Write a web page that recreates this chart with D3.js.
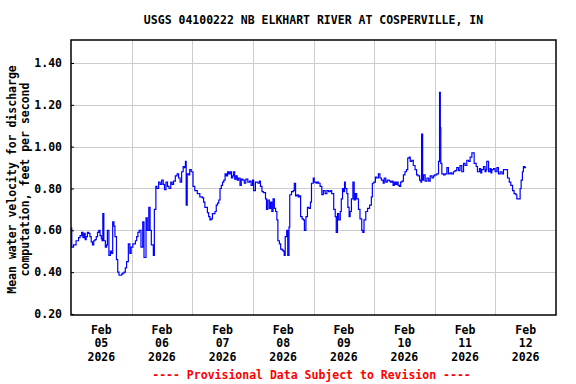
<!DOCTYPE html>
<html>
<head>
<meta charset="utf-8">
<script src="https://cdn.jsdelivr.net/npm/d3@7"></script>
<style>
  body { margin: 0; background: #fff; }
  svg text { font-family: "DejaVu Sans Mono", monospace; font-weight: bold; font-size: 11.5px; }
</style>
</head>
<body>
<div id="chart"></div>
<script>
// gage readings: [hours since Feb 05 2026 00:00, mean velocity ft/s]
var feb05 = [[0,0.61],[0.3,0.52],[1,0.53],[2,0.55],[3,0.565],[3.6,0.575],[4.2,0.59],[4.7,0.565],[5.2,0.585],[5.6,0.555],[6,0.57],[6.5,0.59],[7,0.585],[7.5,0.57],[8,0.545],[8.5,0.53],[9,0.55],[9.5,0.555],[10,0.57],[10.5,0.59],[11,0.60],[11.5,0.575],[12,0.56],[12.3,0.55],[12.6,0.68],[13,0.55],[13.6,0.52],[14.1,0.53],[14.4,0.60],[15,0.48],[15.6,0.50],[16,0.49],[16.5,0.64],[17,0.62],[17.4,0.57],[18,0.46],[18.5,0.40],[19,0.385],[20,0.39],[20.5,0.395],[21,0.40],[21.5,0.42],[22,0.45],[22.7,0.535],[23.3,0.49],[23.8,0.52]];
var feb06 = [[24.5,0.535],[25,0.535],[25.5,0.55],[26,0.57],[26.5,0.59],[27,0.60],[27.7,0.52],[28.4,0.64],[28.9,0.47],[29.7,0.66],[30.2,0.60],[30.8,0.71],[31.3,0.60],[31.8,0.53],[32.6,0.48],[33,0.70],[33.6,0.81],[34,0.80],[34.7,0.83],[35.3,0.82],[35.9,0.84],[36.5,0.82],[37,0.795],[37.6,0.83],[38.2,0.81],[38.8,0.80],[39.5,0.83],[40,0.82],[40.6,0.835],[41.3,0.86],[42,0.87],[42.6,0.85],[43.2,0.83],[43.8,0.88],[44.4,0.905],[44.9,0.90],[45.3,0.93],[45.6,0.72],[46,0.87],[46.6,0.865],[47,0.89],[47.6,0.88]];
var feb07 = [[48,0.88],[48.3,0.81],[49,0.79],[50,0.775],[51,0.76],[51.5,0.76],[52,0.755],[52.5,0.735],[53,0.71],[54,0.685],[54.5,0.665],[55,0.65],[55.5,0.655],[56,0.68],[57,0.69],[57.5,0.72],[58,0.73],[58.5,0.745],[59,0.80],[59.5,0.815],[60,0.83],[60.5,0.84],[61,0.87],[61.5,0.86],[62,0.88],[62.5,0.87],[63,0.88],[63.5,0.85],[64,0.86],[64.3,0.88],[64.8,0.845],[65.3,0.86],[65.8,0.84],[66.3,0.85],[66.9,0.815],[67.4,0.845],[68,0.84],[68.6,0.825],[69.2,0.845],[70,0.83],[70.7,0.835],[71.3,0.815],[71.9,0.84]];
var feb08 = [[72.3,0.79],[73,0.83],[74,0.825],[74.6,0.835],[75,0.81],[75.6,0.785],[76.2,0.78],[77,0.75],[77.4,0.70],[77.9,0.745],[78.5,0.705],[79,0.735],[79.5,0.69],[80,0.75],[80.5,0.705],[81,0.69],[81.5,0.65],[81.9,0.55],[82.5,0.535],[83,0.51],[83.6,0.505],[84,0.50],[84.4,0.48],[84.8,0.57],[85.4,0.60],[85.8,0.48],[86.3,0.615],[86.6,0.77],[87.3,0.785],[88,0.79],[88.4,0.825],[88.9,0.765],[89.5,0.77],[90,0.76],[90.5,0.765],[90.9,0.665],[91.5,0.655],[92,0.65],[92.4,0.60],[93,0.665],[93.6,0.71],[94.2,0.705],[94.8,0.735],[95.2,0.825]];
var feb09 = [[95.9,0.85],[96.3,0.83],[97,0.825],[97.5,0.83],[98,0.825],[98.6,0.81],[99.3,0.77],[99.9,0.79],[100.6,0.775],[101.3,0.79],[102,0.785],[102.7,0.79],[103.2,0.775],[104,0.70],[104.6,0.665],[105,0.59],[105.5,0.68],[106,0.65],[106.6,0.69],[107,0.75],[107.5,0.80],[107.9,0.785],[108.3,0.83],[108.6,0.80],[109.2,0.775],[109.6,0.71],[110.1,0.665],[110.5,0.69],[111,0.75],[111.6,0.83],[112.1,0.745],[112.6,0.775],[113.1,0.75],[113.8,0.70],[114.4,0.655],[115.1,0.60],[115.5,0.59],[116,0.65],[116.7,0.69],[117.4,0.705],[118.2,0.72],[118.9,0.76],[119.3,0.825],[119.9,0.83]];
var feb10 = [[120.5,0.855],[121,0.85],[121.7,0.87],[122.3,0.85],[122.9,0.84],[123.6,0.825],[124,0.85],[124.6,0.83],[125.2,0.84],[126,0.835],[126.5,0.83],[127,0.835],[127.5,0.815],[128,0.83],[128.5,0.82],[129,0.83],[129.5,0.815],[130,0.81],[130.5,0.83],[131,0.835],[131.6,0.865],[132.2,0.88],[132.8,0.89],[133.3,0.945],[133.9,0.95],[134.3,0.93],[134.9,0.935],[135.5,0.91],[136.2,0.89],[136.8,0.865],[137.4,0.86],[138,0.84],[138.5,0.83],[138.8,1.06],[139.2,0.84],[139.6,0.865],[140.2,0.835],[140.9,0.85],[141.6,0.835],[142.2,0.86],[142.9,0.85],[143.5,0.86]];
var feb11 = [[144,0.865],[144.8,0.87],[145.5,0.93],[145.9,1.26],[146.2,1.09],[146.4,0.92],[146.8,0.87],[147.5,0.865],[148.1,0.87],[148.8,0.90],[149.4,0.87],[150.1,0.875],[150.7,0.87],[151.4,0.88],[152,0.885],[152.7,0.90],[153.4,0.885],[154,0.91],[154.7,0.88],[155.4,0.92],[156,0.91],[156.7,0.935],[157.4,0.93],[158,0.95],[158.7,0.97],[159.3,0.97],[159.6,0.92],[160.4,0.905],[160.9,0.88],[161.7,0.895],[162.2,0.875],[162.6,0.89],[163.3,0.905],[163.9,0.88],[164.3,0.89],[164.6,0.93],[165.3,0.88],[165.9,0.895],[166.3,0.875],[166.6,0.89],[167.3,0.895],[167.9,0.88]];
var feb12 = [[168.6,0.90],[169.2,0.87],[169.9,0.88],[170.6,0.87],[171.2,0.89],[172.3,0.89],[172.8,0.85],[173.5,0.83],[174.1,0.815],[174.8,0.79],[175.4,0.775],[176.1,0.77],[176.5,0.75],[177.5,0.75],[177.8,0.80],[178.2,0.84],[178.7,0.88],[179.1,0.905],[179.5,0.90],[179.9,0.905]];

var yTicks = [0.20, 0.40, 0.60, 0.80, 1.00, 1.20, 1.40];
var dayTicks = ['2026-02-05', '2026-02-06', '2026-02-07', '2026-02-08', '2026-02-09', '2026-02-10', '2026-02-11', '2026-02-12'];

var width = 576, height = 384;
var plotLeft = 71, plotRight = 556, plotTop = 40, plotBottom = 315;

var parseDay = d3.timeParse('%Y-%m-%d');
var start = parseDay('2026-02-05');
var readings = [].concat(feb05, feb06, feb07, feb08, feb09, feb10, feb11, feb12);
var data = readings.map(function(r) { return {t: new Date(start.getTime() + r[0] * 3600000), v: r[1]}; });

var x = d3.scaleTime().domain([start, parseDay('2026-02-13')]).range([plotLeft, plotRight]);
var y = d3.scaleLinear().domain([0.195, 1.51]).range([plotBottom, plotTop]);

var svg = d3.select('#chart').append('svg')
  .attr('width', width)
  .attr('height', height);

// grid
var midnights = dayTicks.slice(1).map(parseDay);
svg.append('g').selectAll('line').data(midnights).enter().append('line')
  .attr('x1', function(d) { return Math.round(x(d)) + 0.5; })
  .attr('x2', function(d) { return Math.round(x(d)) + 0.5; })
  .attr('y1', plotTop).attr('y2', plotBottom)
  .style('stroke', '#cccccc').style('stroke-width', 1);

svg.append('g').selectAll('line').data(yTicks.slice(1)).enter().append('line')
  .attr('x1', plotLeft).attr('x2', plotRight)
  .attr('y1', function(d) { return Math.round(y(d)) + 0.5; })
  .attr('y2', function(d) { return Math.round(y(d)) + 0.5; })
  .style('stroke', '#cccccc').style('stroke-width', 1);

// data line
var line = d3.line()
  .curve(d3.curveStepAfter)
  .x(function(d) { return x(d.t); })
  .y(function(d) { return y(d.v); });

svg.append('path').datum(data)
  .attr('d', line)
  .style('fill', 'none')
  .style('stroke', '#0000ff')
  .style('stroke-width', 1.2);

// frame
svg.append('rect')
  .attr('x', plotLeft).attr('y', plotTop)
  .attr('width', plotRight - plotLeft).attr('height', plotBottom - plotTop)
  .style('fill', 'none').style('stroke', '#000').style('stroke-width', 1.5);

// y axis
var yAxis = d3.axisLeft(y).tickValues(yTicks).tickFormat(d3.format('.2f')).tickSize(-3).tickPadding(9);
var ga = svg.append('g').attr('transform', 'translate(' + plotLeft + ',0)').call(yAxis);
ga.select('.domain').remove();
ga.selectAll('text').style('fill', '#000').style('font-size', '11.5px').style('font-family', '"DejaVu Sans Mono", monospace');
ga.selectAll('line').style('stroke', '#000');

// x labels at noon
var fmtDay = d3.timeFormat('%d');
var noon = function(d) { return x(d3.timeHour.offset(d, 12)); };
var labels = svg.append('g').selectAll('text').data(dayTicks.map(parseDay)).enter().append('text')
  .attr('text-anchor', 'middle')
  .attr('x', noon)
  .attr('y', 334);
labels.append('tspan').text('Feb');
labels.append('tspan').attr('x', noon).attr('dy', 13.3).text(function(d) { return fmtDay(d); });
labels.append('tspan').attr('x', noon).attr('dy', 13.3).text('2026');

// title
svg.append('text')
  .attr('x', (plotLeft + plotRight) / 2).attr('y', 24)
  .attr('text-anchor', 'middle')
  .text('USGS 04100222 NB ELKHART RIVER AT COSPERVILLE, IN');

// y title
var yt = svg.append('text')
  .attr('transform', 'translate(0,' + ((plotTop + plotBottom) / 2 + 2) + ') rotate(-90)')
  .attr('text-anchor', 'middle');
yt.append('tspan').attr('x', 0).attr('y', 15.5).text('Mean water velocity for discharge');
yt.append('tspan').attr('x', 0).attr('y', 29).text('computation, feet per second');

// footer
svg.append('text')
  .attr('x', (plotLeft + plotRight) / 2 - 2).attr('y', 379)
  .attr('text-anchor', 'middle')
  .style('fill', '#ff0000')
  .text('---- Provisional Data Subject to Revision ----');
</script>
</body>
</html>
